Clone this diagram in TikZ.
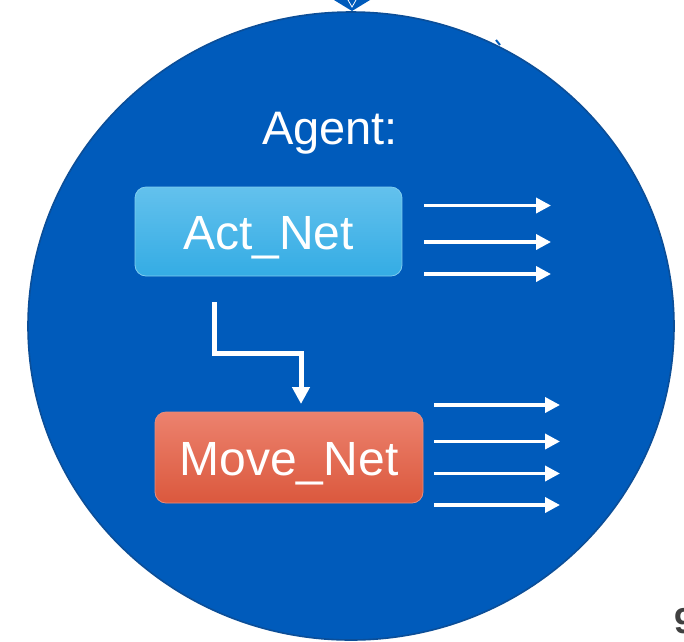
\documentclass[tikz,border=0pt]{standalone}
\usepackage{fontspec}
\setmainfont{Liberation Sans}
\usetikzlibrary{arrows.meta}
\definecolor{agentblue}{HTML}{005BBB}
\definecolor{agentedge}{HTML}{0B4E98}
\definecolor{acttop}{HTML}{63C1ED}
\definecolor{actbot}{HTML}{34ACE4}
\definecolor{actedge}{HTML}{7FCDF0}
\definecolor{movetop}{HTML}{EC826E}
\definecolor{movebot}{HTML}{DB583D}
\definecolor{moveedge}{HTML}{E98D7B}
\definecolor{pagegrey}{HTML}{404040}
\tikzset{
  netbox/.style={rounded corners=11pt, text=white, inner sep=0pt,
    font=\fontsize{48}{58}\selectfont, text height=35pt, text depth=0pt},
  outarrow/.style={draw=white, line width=3.6pt,
    -{Triangle[length=15pt,width=15pt]}},
  flowarrow/.style={draw=white, line width=5pt,
    -{Triangle[length=17pt,width=17pt]}},
}
\begin{document}
\begin{tikzpicture}[x=1pt,y=-1pt]
\clip (0,0) rectangle (684,641);
\fill[white] (0,0) rectangle (684,641);

% incoming arrow heads above the agent
\fill[agentblue] (334,0) -- (370,0) -- (352,11) -- cycle;
\draw[white, line width=0.8pt] (348,0) -- (352,7) -- (356,0);

% agent body
\draw[agentedge, line width=1.6pt, fill=agentblue] (351,326) ellipse [x radius=323, y radius=314];
\draw[agentblue, line width=2pt] (496,40) -- (500,45);

\node[anchor=base, inner sep=0pt, text=white, font=\fontsize{47}{56}\selectfont] (agent) at (330,144) {Agent:};

% the two networks
\node[netbox, draw=actedge, line width=0.8pt, top color=acttop, bottom color=actbot,
      minimum width=267pt, minimum height=89pt] (act) at (268.5,231.5) {Act\_Net};
\node[netbox, draw=moveedge, line width=0.8pt, top color=movetop, bottom color=movebot,
      minimum width=268pt, minimum height=91pt] (move) at (289,457.5) {Move\_Net};

% flow from Act_Net to Move_Net
\coordinate (flowstart) at (214.5,302);
\coordinate (flowend) at (301,404);
\draw[flowarrow] (flowstart) -- (214.5,353) -| (flowend);

% outputs of Act_Net
\foreach \i/\y in {1/205.5, 2/242, 3/274} {
  \coordinate (ao\i) at (424,\y);
  \coordinate (at\i) at (551,\y);
  \draw[outarrow] (ao\i) -- (at\i);
}
% outputs of Move_Net
\foreach \i/\y in {1/405, 2/441.5, 3/473.5, 4/505} {
  \coordinate (mo\i) at (434,\y);
  \coordinate (mt\i) at (560,\y);
  \draw[outarrow] (mo\i) -- (mt\i);
}

% page number
\node[anchor=base west, inner sep=0pt, text=pagegrey,
      font=\fontsize{36}{40}\selectfont\bfseries] (page) at (674,633) {9};
\end{tikzpicture}
\end{document}
